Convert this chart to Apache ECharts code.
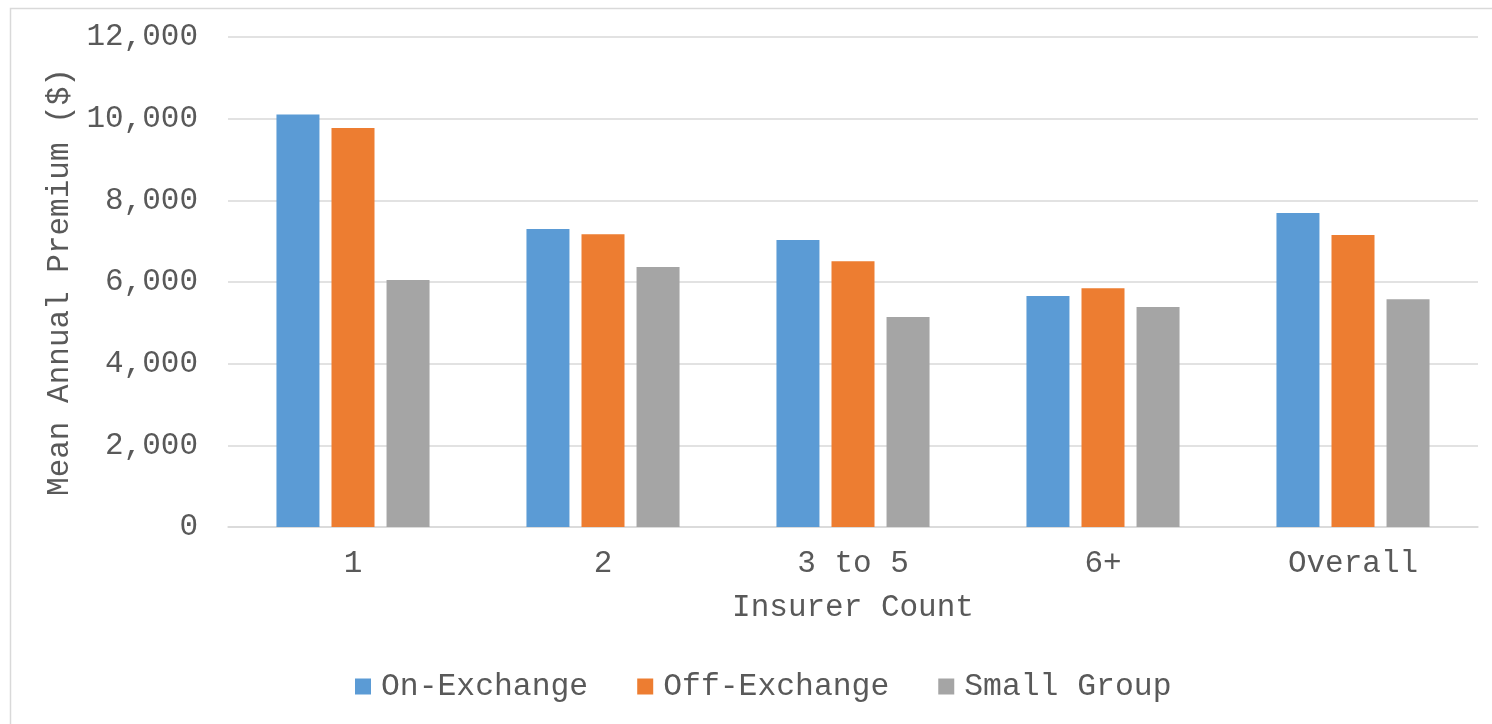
<!DOCTYPE html>
<html><head><meta charset="utf-8">
<script src="https://cdn.jsdelivr.net/npm/echarts@6/dist/echarts.min.js"></script>
<style>html,body{margin:0;padding:0;background:#fff}#c{width:1492px;height:724px}</style>
</head><body><div id="c"></div>
<script>
var categories = ['1', '2', '3 to 5', '6+', 'Overall'];
var onExchange = [10100, 7300, 7030, 5660, 7690];
var offExchange = [9770, 7170, 6510, 5850, 7150];
var smallGroup = [6050, 6370, 5140, 5390, 5580];
var seriesNames = ['On-Exchange', 'Off-Exchange', 'Small Group'];
var colors = ['#5B9BD5', '#ED7D31', '#A5A5A5'];
var font = '"Liberation Mono", "Courier New", monospace';
var txt = '#595959';
var chart = echarts.init(document.getElementById('c'));
var data = [onExchange, offExchange, smallGroup];
chart.setOption({
  animation: false,
  textStyle: {fontFamily: font},
  graphic: [{type: 'rect', left: 8, top: 6, shape: {width: 1520, height: 740}, style: {fill: 'none', stroke: '#d9d9d9', lineWidth: 1.5}, silent: true}],
  grid: {left: 228, right: 14, top: 37, bottom: 197},
  legend: {
    left: 350, top: 666, itemWidth: 16, itemHeight: 16, itemGap: 49,
    icon: 'rect',
    textStyle: {fontFamily: font, fontSize: 31.4, color: txt, padding: [0, 0, 0, 5]},
    data: seriesNames
  },
  xAxis: {
    type: 'category', data: categories,
    name: 'Insurer Count', nameLocation: 'middle', nameGap: 65,
    nameTextStyle: {fontFamily: font, fontSize: 31, color: txt},
    axisLine: {lineStyle: {color: '#d9d9d9', width: 1.5}},
    axisTick: {show: false},
    axisLabel: {fontFamily: font, fontSize: 31, color: txt, margin: 21}
  },
  yAxis: {
    type: 'value', min: 0, max: 12000, interval: 2000,
    name: 'Mean Annual Premium ($)', nameLocation: 'middle', nameGap: 149,
    nameTextStyle: {fontFamily: font, fontSize: 31, color: txt},
    axisLine: {show: false}, axisTick: {show: false},
    splitLine: {lineStyle: {color: '#d9d9d9', width: 1.5}},
    axisLabel: {fontFamily: font, fontSize: 31, color: txt, margin: 30,
      formatter: function (v) { return v.toLocaleString('en-US'); }}
  },
  series: seriesNames.map(function (n, i) {
    return {name: n, type: 'bar', data: data[i], barWidth: 43, barGap: '28%',
      itemStyle: {color: colors[i]}};
  })
});
</script></body></html>
